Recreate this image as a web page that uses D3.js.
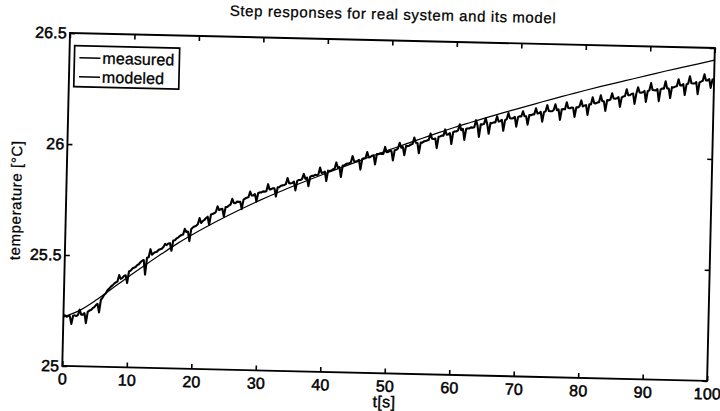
<!DOCTYPE html>
<html>
<head>
<meta charset="utf-8">
<script src="https://cdn.jsdelivr.net/npm/d3@7"></script>
<style>
  html, body { margin: 0; padding: 0; background: #fff; }
  svg { display: block; }
  text { font-family: "Liberation Sans", Arial, Helvetica, sans-serif; fill: #000; }
</style>
</head>
<body>
<svg id="chart" width="720" height="411"></svg>
<script>
// ---------------- data ----------------
const title = "Step responses for real system and its model";
const xLabel = "t[s]";
const yLabel = "temperature [°C]";
const seriesNames = ["measured", "modeled"];

const xTicks = [0, 10, 20, 30, 40, 50, 60, 70, 80, 90, 100];
const xTickLabels = ["0", "10", "20", "30", "40", "50", "60", "70", "80", "90", "100"];
const yTicks = [25, 25.5, 26, 26.5];
const yTickLabels = ["25", "25.5", "26", "26.5"];

// measured temperature, sampled every 0.25 s from 0 to 100 s (one row = one second)
const measuredStep = 0.25;
const measured = [
  25.225, 25.228, 25.222, 25.226,   25.224, 25.190, 25.227, 25.229,
  25.226, 25.231, 25.255, 25.233,   25.233, 25.240, 25.195, 25.246,
  25.252, 25.255, 25.263, 25.268,   25.277, 25.283, 25.245, 25.302,
  25.312, 25.325, 25.332, 25.346,   25.353, 25.362, 25.368, 25.376,
  25.382, 25.386, 25.415, 25.398,   25.403, 25.412, 25.415, 25.380,
  25.432, 25.436, 25.445, 25.450,   25.453, 25.462, 25.466, 25.475,
  25.482, 25.485, 25.420, 25.496,   25.498, 25.535, 25.510, 25.517,
  25.522, 25.524, 25.532, 25.536,   25.538, 25.546, 25.560, 25.555,
  25.562, 25.564, 25.530, 25.576,   25.578, 25.586, 25.590, 25.597,
  25.602, 25.604, 25.630, 25.616,   25.618, 25.575, 25.630, 25.637,
  25.642, 25.645, 25.652, 25.680,   25.658, 25.667, 25.672, 25.681,
  25.687, 25.650, 25.697, 25.700,   25.703, 25.709, 25.735, 25.718,
  25.722, 25.724, 25.690, 25.733,   25.733, 25.740, 25.744, 25.770,
  25.752, 25.751, 25.758, 25.757,   25.758, 25.725, 25.768, 25.773,
  25.777, 25.779, 25.805, 25.787,   25.788, 25.794, 25.760, 25.799,
  25.802, 25.802, 25.807, 25.806,   25.808, 25.840, 25.816, 25.818,
  25.822, 25.822, 25.785, 25.827,   25.828, 25.834, 25.836, 25.838,
  25.842, 25.870, 25.847, 25.846,   25.848, 25.854, 25.815, 25.858,
  25.862, 25.862, 25.867, 25.890,   25.868, 25.874, 25.835, 25.878,
  25.882, 25.882, 25.887, 25.886,   25.888, 25.920, 25.896, 25.898,
  25.902, 25.860, 25.907, 25.906,   25.908, 25.914, 25.916, 25.945,
  25.922, 25.924, 25.880, 25.932,   25.933, 25.939, 25.941, 25.943,
  25.947, 25.975, 25.952, 25.951,   25.953, 25.959, 25.915, 25.963,
  25.967, 25.967, 25.995, 25.971,   25.973, 25.979, 25.981, 25.940,
  25.987, 25.986, 25.990, 25.988,   25.988, 26.020, 25.996, 25.998,
  26.002, 26.002, 25.960, 26.006,   26.008, 26.014, 26.040, 26.018,
  26.022, 25.985, 26.027, 26.026,   26.028, 26.034, 26.036, 26.065,
  26.042, 26.041, 25.995, 26.043,   26.043, 26.049, 26.051, 26.053,
  26.057, 26.085, 26.062, 26.061,   26.063, 26.020, 26.071, 26.073,
  26.077, 26.077, 26.105, 26.081,   26.083, 26.089, 26.040, 26.093,
  26.097, 26.097, 26.102, 26.130,   26.103, 26.109, 26.060, 26.110,
  26.112, 26.112, 26.117, 26.116,   26.118, 26.150, 26.126, 26.075,
  26.132, 26.131, 26.134, 26.160,   26.133, 26.090, 26.139, 26.138,
  26.142, 26.142, 26.170, 26.146,   26.148, 26.154, 26.105, 26.153,
  26.157, 26.185, 26.162, 26.161,   26.163, 26.169, 26.125, 26.168,
  26.172, 26.171, 26.195, 26.173,   26.173, 26.135, 26.179, 26.178,
  26.182, 26.182, 26.210, 26.186,   26.188, 26.194, 26.150, 26.193,
  26.197, 26.225, 26.199, 26.198,   26.198, 26.204, 26.230, 26.203,
  26.207, 26.160, 26.208, 26.209,   26.208, 26.240, 26.214, 26.213,
  26.217, 26.216, 26.175, 26.218,   26.218, 26.224, 26.250, 26.223,
  26.227, 26.229, 26.185, 26.233,   26.233, 26.265, 26.239, 26.238,
  26.242, 26.244, 26.275, 26.248,   26.248, 26.205, 26.254, 26.253,
  26.257, 26.285, 26.262, 26.261,   26.263, 26.269, 26.225, 26.268,
  26.272, 26.274, 26.305, 26.278,   26.278, 26.284, 26.286, 26.240,
  26.287, 26.315, 26.292, 26.291,   26.293, 26.299, 26.250, 26.298,
  26.302, 26.335, 26.304, 26.303,   26.303, 26.309, 26.255, 26.308,
  26.312, 26.311, 26.345, 26.313,   26.313, 26.270, 26.319, 26.318,
  26.322, 26.324, 26.355, 26.328,   26.328, 26.334, 26.285, 26.333,
  26.337, 26.370, 26.339, 26.338,   26.338, 26.344, 26.290, 26.343,
  26.347, 26.351, 26.380, 26.353,   26.353, 26.359, 26.320, 26.358,
  26.360
];

// modeled temperature, every 2.5 s from 0 to 100 s
const modeledStep = 2.5;
const modeled = [
  25.220, 25.252, 25.300, 25.355, 25.410, 25.463, 25.515, 25.565, 25.610, 25.652,
  25.692, 25.730, 25.766, 25.800, 25.832, 25.863, 25.893, 25.922, 25.951, 25.980,
  26.008, 26.036, 26.063, 26.090, 26.116, 26.140, 26.164, 26.187, 26.209, 26.231,
  26.253, 26.274, 26.295, 26.315, 26.334, 26.353, 26.372, 26.391, 26.409, 26.427,
  26.445
];

// ---------------- drawing ----------------
const W = 645, H = 333;
const svg = d3.select("#chart");
// the scanned figure is slightly rotated
const g = svg.append("g").attr("transform", "translate(70,33) rotate(1.33)");

const x = d3.scaleLinear().domain([0, 100]).range([0, W]);
const y = d3.scaleLinear().domain([25, 26.5]).range([H, 0]);

const fontSize = 15;

// axes (MATLAB style, inward ticks on all sides)
const axBottom = g.append("g").attr("transform", `translate(0,${H})`)
  .call(d3.axisBottom(x).tickValues(xTicks).tickSizeInner(-5).tickSizeOuter(0)
        .tickPadding(7).tickFormat((d, i) => xTickLabels[i]));
const axTop = g.append("g")
  .call(d3.axisTop(x).tickValues(xTicks).tickSizeInner(-5).tickSizeOuter(0).tickFormat(""));
const axLeft = g.append("g")
  .call(d3.axisLeft(y).tickValues(yTicks).tickSizeInner(-5).tickSizeOuter(0)
        .tickPadding(3).tickFormat((d, i) => yTickLabels[i]));
const axRight = g.append("g").attr("transform", `translate(${W},0)`)
  .call(d3.axisRight(y).tickValues(yTicks).tickSizeInner(-5).tickSizeOuter(0).tickFormat(""));

[axBottom, axTop, axLeft, axRight].forEach(a => {
  a.select(".domain").remove();
  a.selectAll(".tick line").attr("stroke", "#000").attr("stroke-width", 1.6);
  a.selectAll(".tick text").attr("font-size", fontSize + 1).attr("fill", "#000")
    .attr("stroke", "#000").attr("stroke-width", 0.5)
    .attr("font-family", "Liberation Sans, Arial, sans-serif").attr("letter-spacing", "0.2px");
});

g.append("rect").attr("x", 0).attr("y", 0).attr("width", W).attr("height", H)
  .attr("fill", "none").attr("stroke", "#000").attr("stroke-width", 1.9);

// lines
const measuredPts = measured.map((v, i) => [i * measuredStep, v]);
const modeledPts = modeled.map((v, i) => [i * modeledStep, v]);

g.append("path").datum(modeledPts)
  .attr("fill", "none").attr("stroke", "#000").attr("stroke-width", 1.2)
  .attr("d", d3.line().x(d => x(d[0])).y(d => y(d[1])).curve(d3.curveMonotoneX));

g.append("path").datum(measuredPts)
  .attr("fill", "none").attr("stroke", "#000").attr("stroke-width", 2.1)
  .attr("stroke-linejoin", "round")
  .attr("d", d3.line().x(d => x(d[0])).y(d => y(d[1])));

// title and labels
g.append("text").attr("x", W / 2).attr("y", -21).attr("text-anchor", "middle")
  .attr("font-size", fontSize).attr("letter-spacing", "0.6px")
  .attr("stroke", "#000").attr("stroke-width", 0.25).text(title);
g.append("text").attr("x", x(50)).attr("y", H + 34).attr("text-anchor", "middle")
  .attr("font-size", fontSize + 1).attr("letter-spacing", "0.3px")
  .attr("stroke", "#000").attr("stroke-width", 0.4).text(xLabel);
g.append("text").attr("transform", `translate(-45,${H / 2 + 2}) rotate(-90)`)
  .attr("text-anchor", "middle").attr("font-size", fontSize).attr("letter-spacing", "0.6px")
  .attr("stroke", "#000").attr("stroke-width", 0.25).text(yLabel);

// legend
const lg = g.append("g").attr("transform", "translate(5,12.5)");
lg.append("rect").attr("width", 105).attr("height", 41)
  .attr("fill", "#fff").attr("stroke", "#000").attr("stroke-width", 1.7);
seriesNames.forEach((name, i) => {
  const yy = 12 + i * 19;
  lg.append("line").attr("x1", 5).attr("x2", 26).attr("y1", yy).attr("y2", yy)
    .attr("stroke", "#000").attr("stroke-width", 1.4);
  lg.append("text").attr("x", 28).attr("y", yy + 5.5)
    .attr("font-size", fontSize + 1).attr("letter-spacing", "0.1px")
    .attr("stroke", "#000").attr("stroke-width", 0.3).text(name);
});
</script>
</body>
</html>
